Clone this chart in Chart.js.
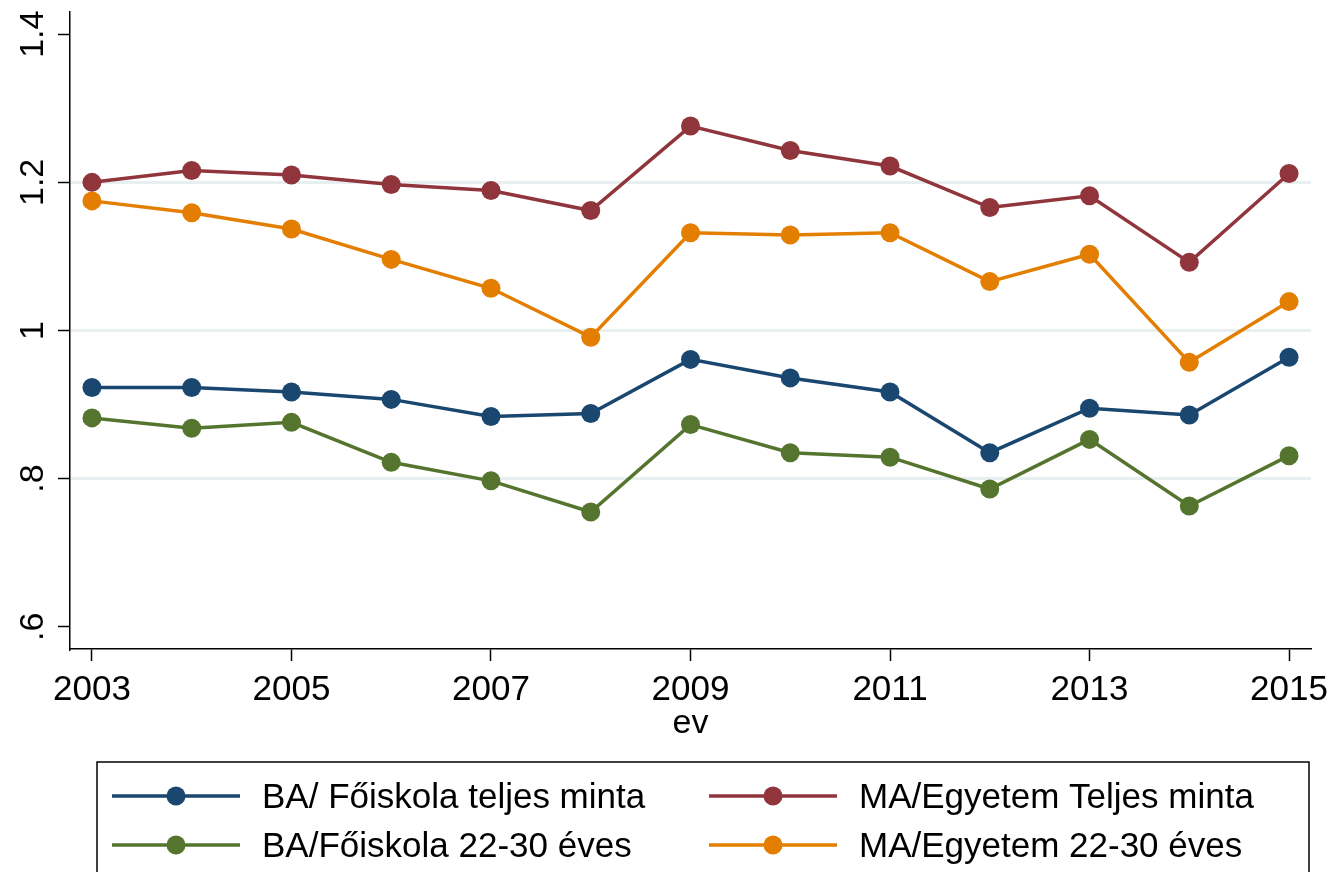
<!DOCTYPE html>
<html>
<head>
<meta charset="utf-8">
<script src="https://cdn.jsdelivr.net/npm/chart.js@4.4.0/dist/chart.umd.min.js"></script>
<style>
  html, body { margin: 0; padding: 0; background: #fff; }
  #wrap { width: 1329px; height: 872px; }
</style>
</head>
<body>
<div id="wrap"><canvas id="evChart" width="1329" height="872"></canvas></div>
<script>
const years = [2003, 2004, 2005, 2006, 2007, 2008, 2009, 2010, 2011, 2012, 2013, 2014, 2015];
const baTeljes = [0.923, 0.923, 0.917, 0.907, 0.884, 0.888, 0.961, 0.936, 0.917, 0.835, 0.895, 0.886, 0.964];
const maTeljes = [1.200, 1.216, 1.210, 1.197, 1.189, 1.162, 1.276, 1.243, 1.222, 1.166, 1.182, 1.092, 1.212];
const ba2230 = [0.882, 0.868, 0.876, 0.822, 0.797, 0.755, 0.873, 0.835, 0.829, 0.786, 0.853, 0.763, 0.831];
const ma2230 = [1.175, 1.159, 1.137, 1.096, 1.057, 0.991, 1.132, 1.129, 1.132, 1.066, 1.103, 0.957, 1.039];
const xTicks = [2003, 2005, 2007, 2009, 2011, 2013, 2015];
const yTicks = [0.6, 0.8, 1.0, 1.2, 1.4];
const yTickLabels = ['.6', '.8', '1', '1.2', '1.4'];
const seriesLabels = ['BA/ Főiskola teljes minta', 'MA/Egyetem Teljes minta', 'BA/Főiskola 22-30 éves', 'MA/Egyetem 22-30 éves'];

const FONT = '"Liberation Sans", Arial, sans-serif';
const colors = ['#1a476f', '#90353b', '#55752f', '#e37e00'];

function makeSet(label, values, color) {
    return {
        label: label,
        data: years.map((y, i) => ({ x: y, y: values[i] })),
        borderColor: color,
        backgroundColor: color,
        borderWidth: 3.5,
        pointRadius: 9.5,
        pointBorderWidth: 0,
        pointHoverRadius: 9.5,
        tension: 0,
    };
}

// rotated y tick labels + stata style legend box
const stataExtras = {
    id: 'stataExtras',
    afterDraw(chart) {
        const ctx = chart.ctx;
        const ys = chart.scales.y;
        ctx.save();
        ctx.fillStyle = '#000';
        ctx.font = '34px ' + FONT;
        ctx.textAlign = 'center';
        ctx.textBaseline = 'alphabetic';
        yTicks.forEach((v, i) => {
            ctx.save();
            ctx.translate(43, ys.getPixelForValue(v));
            ctx.rotate(-Math.PI / 2);
            ctx.fillText(yTickLabels[i], 0, 0);
            ctx.restore();
        });

        // legend
        ctx.strokeStyle = '#000';
        ctx.lineWidth = 1.5;
        ctx.strokeRect(97, 762, 1212, 130);
        const colX = [112, 709];
        const rowY = [796, 845];
        chart.data.datasets.forEach((ds, i) => {
            const x0 = colX[i % 2];
            const y0 = rowY[Math.floor(i / 2)];
            ctx.strokeStyle = ds.borderColor;
            ctx.lineWidth = 3.5;
            ctx.beginPath();
            ctx.moveTo(x0, y0);
            ctx.lineTo(x0 + 128, y0);
            ctx.stroke();
            ctx.fillStyle = ds.borderColor;
            ctx.beginPath();
            ctx.arc(x0 + 64, y0, 9.5, 0, Math.PI * 2);
            ctx.fill();
            ctx.fillStyle = '#000';
            ctx.textAlign = 'left';
            ctx.textBaseline = 'middle';
            ctx.font = '35px ' + FONT;
            ctx.fillText(ds.label, x0 + 150, y0 + 2);
        });
        ctx.restore();
    }
};

const ctxEv = document.getElementById('evChart').getContext('2d');
const evChart = new Chart(ctxEv, {
    type: 'line',
    data: {
        datasets: [
            makeSet(seriesLabels[0], baTeljes, colors[0]),
            makeSet(seriesLabels[1], maTeljes, colors[1]),
            makeSet(seriesLabels[2], ba2230, colors[2]),
            makeSet(seriesLabels[3], ma2230, colors[3]),
        ]
    },
    options: {
        responsive: false,
        animation: false,
        devicePixelRatio: 1,
        layout: { padding: { top: 12, right: 18, left: 0, bottom: 0 } },
        scales: {
            x: {
                type: 'linear',
                min: 2002.78,
                max: 2015.22,
                afterBuildTicks: s => { s.ticks = xTicks.map(v => ({ value: v })); },
                afterFit: s => { s.height = 223; s.paddingLeft = 0; s.paddingRight = 0; },
                border: { display: true, color: '#000', width: 1.5 },
                grid: { drawOnChartArea: false, drawTicks: true, tickLength: 12, tickColor: '#000', tickWidth: 1.5 },
                ticks: {
                    color: '#000',
                    font: { family: FONT, size: 35 },
                    padding: 8,
                    maxRotation: 0,
                    callback: v => String(v)
                },
                title: {
                    display: true,
                    text: 'ev',
                    color: '#000',
                    font: { family: FONT, size: 34 },
                    padding: { top: 0, bottom: 128 }
                }
            },
            y: {
                min: 0.57,
                max: 1.43,
                afterBuildTicks: s => { s.ticks = yTicks.map(v => ({ value: v })); },
                afterFit: s => { s.width = 70; },
                border: { display: true, color: '#000', width: 1.5 },
                grid: {
                    drawTicks: true,
                    tickLength: 12,
                    tickColor: '#000',
                    tickWidth: 1.5,
                    lineWidth: 3,
                    color: c => (c.tick && (c.tick.value === 0.6 || c.tick.value === 1.4)) ? 'rgba(0,0,0,0)' : '#e8eff0'
                },
                ticks: { display: false }
            }
        },
        plugins: {
            legend: { display: false },
            tooltip: { enabled: false }
        }
    },
    plugins: [stataExtras]
});
</script>
</body>
</html>
